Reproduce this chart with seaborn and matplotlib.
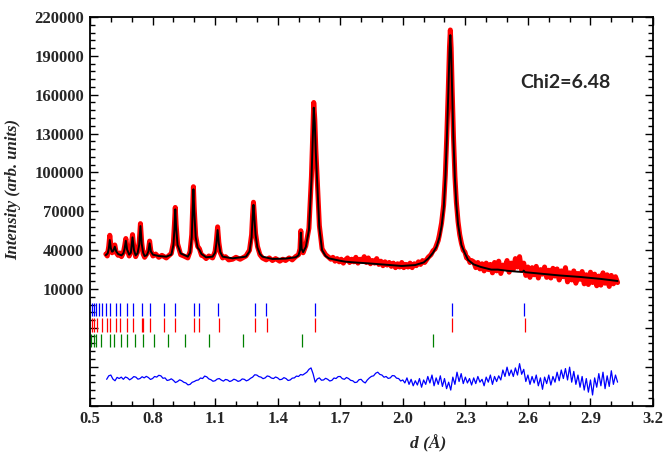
import numpy as np
import pandas as pd
import seaborn as sns
import matplotlib.pyplot as plt
from matplotlib.ticker import FixedLocator, FuncFormatter

# calculated profile (black line)
calc_d = [0.576, 0.585, 0.590, 0.595, 0.600, 0.606, 0.612, 0.619, 0.626, 0.635,
          0.651, 0.660, 0.666, 0.672, 0.678, 0.688, 0.696, 0.704, 0.711, 0.719,
          0.728, 0.736, 0.742, 0.748, 0.755, 0.762, 0.772, 0.780, 0.786, 0.792,
          0.802, 0.830, 0.866, 0.890, 0.900, 0.905, 0.909, 0.913, 0.920, 0.935,
          0.969, 0.980, 0.988, 0.992, 0.996, 1.000, 1.007, 1.016, 1.025, 1.035,
          1.057, 1.088, 1.100, 1.106, 1.112, 1.118, 1.125, 1.136, 1.184, 1.248,
          1.265, 1.275, 1.280, 1.284, 1.288, 1.294, 1.303, 1.315, 1.327, 1.375,
          1.438, 1.486, 1.500, 1.507, 1.511, 1.515, 1.522, 1.535, 1.550, 1.562,
          1.568, 1.573, 1.578, 1.583, 1.589, 1.600, 1.613, 1.630, 1.645, 1.700,
          1.725, 1.780, 1.836, 1.900, 1.950, 1.995, 2.059, 2.100, 2.122, 2.145,
          2.162, 2.176, 2.186, 2.196, 2.204, 2.211, 2.218, 2.224, 2.228, 2.232,
          2.237, 2.243, 2.250, 2.257, 2.265, 2.281, 2.298, 2.313, 2.340, 2.375,
          2.424, 2.456, 2.500, 2.551, 2.575, 2.580, 2.586, 2.650, 2.750, 2.852,
          2.950, 3.030]
calc_I = [36200, 37500, 41000, 47800, 41500, 38800, 39500, 42700, 39000, 37000,
          36000, 37500, 41000, 47300, 40500, 36500, 38000, 49900, 40000, 36000,
          37500, 44000, 58600, 45000, 38000, 35500, 36000, 39000, 45300, 39000,
          36500, 35500, 35000, 36500, 44000, 56000, 71500, 58000, 44000, 37500,
          35000, 38000, 50000, 68000, 87000, 70000, 50000, 42000, 40100, 37000,
          34500, 35000, 38000, 45000, 55500, 45000, 38500, 35000, 33700, 35000,
          39000, 50000, 65000, 75000, 66000, 52000, 42000, 37000, 35000, 33200,
          33500, 34500, 36000, 40000, 53500, 41000, 38500, 42500, 55500, 94000,
          125000, 150000, 138000, 115000, 94000, 57000, 40000, 35500, 33700, 31800,
          31100, 30400, 29800, 29000, 28300, 27800, 28500, 30500, 33500, 38000,
          42700, 50000, 58500, 72000, 95000, 125000, 160000, 193000, 206000, 192000,
          160000, 125000, 95000, 75000, 60000, 44000, 37500, 32500, 29000, 27000,
          25000, 25000, 24100, 23400, 23200, 24200, 23000, 22000, 20500, 19300,
          17800, 16200]

# observed profile (red)
obs_d = [0.576, 0.583, 0.590, 0.595, 0.600, 0.606, 0.612, 0.619, 0.626, 0.635,
         0.643, 0.651, 0.660, 0.666, 0.672, 0.678, 0.688, 0.696, 0.704, 0.711,
         0.719, 0.728, 0.736, 0.742, 0.748, 0.755, 0.762, 0.772, 0.780, 0.786,
         0.792, 0.802, 0.815, 0.830, 0.845, 0.866, 0.880, 0.890, 0.900, 0.905,
         0.909, 0.913, 0.920, 0.935, 0.950, 0.969, 0.980, 0.988, 0.992, 0.996,
         1.000, 1.007, 1.016, 1.025, 1.035, 1.045, 1.057, 1.070, 1.088, 1.100,
         1.106, 1.112, 1.118, 1.125, 1.136, 1.150, 1.165, 1.184, 1.200, 1.220,
         1.248, 1.265, 1.275, 1.280, 1.284, 1.288, 1.294, 1.303, 1.315, 1.327,
         1.345, 1.360, 1.375, 1.390, 1.410, 1.425, 1.438, 1.455, 1.470, 1.486,
         1.500, 1.507, 1.511, 1.515, 1.522, 1.535, 1.550, 1.562, 1.568, 1.573,
         1.578, 1.583, 1.589, 1.600, 1.613, 1.630, 1.645, 1.655, 1.665, 1.675,
         1.685, 1.695, 1.705, 1.715, 1.725, 1.735, 1.745, 1.755, 1.765, 1.775,
         1.785, 1.795, 1.805, 1.815, 1.825, 1.835, 1.845, 1.855, 1.865, 1.875,
         1.885, 1.895, 1.905, 1.915, 1.925, 1.935, 1.945, 1.955, 1.965, 1.975,
         1.985, 1.995, 2.005, 2.015, 2.025, 2.035, 2.045, 2.055, 2.065, 2.075,
         2.085, 2.095, 2.105, 2.122, 2.135, 2.145, 2.155, 2.162, 2.170, 2.176,
         2.186, 2.196, 2.204, 2.211, 2.218, 2.224, 2.228, 2.232, 2.237, 2.243,
         2.250, 2.257, 2.265, 2.273, 2.281, 2.290, 2.298, 2.306, 2.313, 2.322,
         2.330, 2.34, 2.35, 2.36, 2.37, 2.38, 2.39, 2.40, 2.41, 2.42,
         2.43, 2.44, 2.45, 2.46, 2.47, 2.48, 2.49, 2.50, 2.51, 2.52,
         2.53, 2.54, 2.55, 2.56, 2.57, 2.58, 2.59, 2.60, 2.61, 2.62,
         2.63, 2.64, 2.65, 2.66, 2.67, 2.68, 2.69, 2.70, 2.71, 2.72,
         2.73, 2.74, 2.75, 2.76, 2.77, 2.78, 2.79, 2.80, 2.81, 2.82,
         2.83, 2.84, 2.85, 2.86, 2.87, 2.88, 2.89, 2.90, 2.91, 2.92,
         2.93, 2.94, 2.95, 2.96, 2.97, 2.98, 2.99, 3.00, 3.01, 3.02,
         3.03]
obs_I = [37000, 35500, 43000, 51500, 44000, 38000, 40500, 44000, 38000, 36000,
         37800, 35000, 38000, 43000, 49000, 41000, 35500, 39000, 52000, 41000,
         35000, 38500, 46000, 60500, 46000, 37000, 34500, 37000, 40000, 47000,
         39500, 35500, 37000, 34500, 36000, 34000, 36000, 37500, 46000, 60000,
         73000, 60000, 45000, 36500, 35500, 34000, 39000, 52000, 70000, 89000,
         72000, 51000, 43000, 41000, 36000, 35500, 33500, 35500, 34000, 39000,
         47000, 58000, 46000, 38000, 34000, 35000, 32500, 33000, 34500, 33000,
         35500, 40000, 52000, 68000, 77000, 68000, 53000, 43000, 36500, 34000,
         32500, 34000, 32000, 33500, 31500, 33000, 32000, 34000, 32500, 35000,
         36500, 41000, 55000, 42000, 38000, 43500, 57000, 97000, 128000, 154000,
         141000, 118000, 97000, 59000, 41000, 36500, 34500, 33000, 34500, 31500,
         33500, 31000, 33000, 30000, 32500, 34000, 30500, 33000, 31000, 34500,
         30000, 33000, 31500, 35000, 30500, 34000, 29500, 32000, 30000, 33500,
         29000, 31500, 28000, 31000, 28500, 30500, 27500, 30000, 26500, 29500,
         27000, 30500, 26500, 29000, 27000, 30000, 26500, 29500, 28000, 31000,
         29000, 32000, 30500, 34500, 36500, 39500, 41000, 44000, 47500, 52000,
         61000, 75000, 98000, 128000, 163000, 197000, 210000, 196000, 163000, 128000,
         97000, 77000, 62000, 52000, 45500, 40000, 38500, 34000, 34000, 30500,
         32000, 31000, 26500, 30500, 25500, 29500, 24000, 30000, 25000, 29000,
         22500, 30500, 24000, 31500, 22000, 28500, 26000, 32000, 23000, 30000,
         25000, 33500, 27000, 35000, 24500, 30000, 20500, 27000, 19000, 26500,
         21000, 27500, 18500, 25000, 21500, 27000, 19000, 24500, 18500, 26000,
         20000, 25500, 17000, 24000, 19500, 26500, 15500, 22500, 17000, 24000,
         14500, 22000, 17500, 23500, 14000, 21000, 13500, 23000, 15000, 21500,
         12500, 20000, 13000, 22500, 14500, 21000, 12000, 20500, 14000, 19500,
         15000]

# difference curve (blue), in thousands, d from 0.58 to 3.03 in 0.01 steps
diff_d = np.round(np.arange(0.58, 3.035, 0.01), 2)
diff_k = [-59.7, -57.0, -56.4, -59.5, -60.8, -58.2, -59.1, -58.0, -59.7, -57.9,
          -58.6, -60.1, -59.1, -57.6, -58.0, -59.6, -59.1, -57.7, -58.6, -57.4,
          -58.3, -59.8, -59.1, -57.5, -58.0, -56.6, -57.0, -58.9, -58.6, -60.6,
          -60.2, -59.3, -60.5, -62.2, -61.4, -60.1, -60.8, -62.0, -62.5, -64.0,
          -63.6, -62.0, -61.4, -60.5, -60.2, -58.7, -59.1, -57.2, -57.8, -59.4,
          -60.0, -61.2, -60.8, -59.5, -59.1, -60.3, -61.1, -59.8, -60.2, -61.4,
          -60.8, -59.6, -60.2, -61.3, -60.8, -59.4, -59.7, -60.9, -60.2, -58.9,
          -58.0, -56.2, -56.4, -57.6, -58.0, -59.2, -58.6, -57.1, -57.5, -58.7,
          -59.1, -57.9, -58.6, -60.0, -59.7, -58.4, -59.1, -60.6, -60.2, -58.8,
          -58.6, -57.2, -57.5, -56.0, -56.4, -55.3, -54.2, -52.0, -50.9, -55.5,
          -61.9, -59.4, -58.6, -60.4, -60.2, -58.9, -59.7, -61.0, -60.5, -58.7,
          -59.1, -57.6, -57.5, -59.2, -59.7, -58.3, -59.1, -60.5, -60.8, -62.2,
          -61.9, -60.0, -59.7, -61.5, -62.5, -60.2, -58.6, -57.4, -57.0, -55.0,
          -54.2, -55.9, -56.4, -58.1, -57.5, -59.0, -58.6, -56.8, -57.0, -58.8,
          -59.1, -61.0, -60.2,
          -62.5, -58.6, -63.6, -59.7, -64.7, -60.8, -64.1, -59.1,
          -65.8, -60.2, -63.6, -57.5, -62.5, -56.4, -64.7, -58.6, -63.6, -57.0,
          -65.2, -59.1, -66.9, -61.9, -68.0, -58.0, -63.6, -54.2, -61.4, -55.3,
          -63.0, -58.0, -62.5, -59.1, -64.1, -58.6, -63.0, -57.5, -61.9, -59.7,
          -64.7, -58.0, -61.9, -56.4, -63.6, -57.5, -61.4, -57.0, -60.2, -52.5,
          -57.5, -50.3, -56.9, -52.5, -57.5, -50.9, -56.4, -47.6, -55.8, -52.0,
          -61.4, -56.4, -63.6, -57.5, -62.5, -56.4, -64.7, -58.6, -67.4, -58.0,
          -63.0, -56.4, -64.1, -57.5, -61.9, -54.2, -60.8, -52.5, -59.1, -51.4,
          -60.2, -50.3, -61.9, -53.6, -63.6, -56.4, -65.8, -57.5, -68.0, -59.1,
          -69.6, -60.2, -71.8, -58.6, -65.8, -55.3, -64.7, -54.2, -66.9, -57.0,
          -65.2, -53.1, -63.6, -56.4, -61.9]

# Bragg reflection positions of the three phases
bragg_blue = [0.509, 0.517, 0.531, 0.543, 0.556, 0.577, 0.597, 0.623, 0.645, 0.676,
              0.705, 0.748, 0.790, 0.855, 0.910, 0.999, 1.025, 1.115, 1.289, 1.344,
              1.580, 2.234, 2.580]
bragg_red = [0.509, 0.521, 0.534, 0.556, 0.582, 0.597, 0.623, 0.645, 0.676, 0.705,
             0.748, 0.756, 0.790, 0.855, 0.910, 0.999, 1.025, 1.118, 1.289, 1.349,
             1.580, 2.237, 2.584]
bragg_green = [0.505, 0.517, 0.529, 0.555, 0.594, 0.616, 0.649, 0.676, 0.714, 0.756,
               0.808, 0.873, 0.958, 1.069, 1.235, 1.517, 2.144]

obs = pd.DataFrame({"d": obs_d, "I": obs_I})
calc = pd.DataFrame({"d": calc_d, "I": calc_I})
diff = pd.DataFrame({"d": diff_d, "I": np.array(diff_k) * 1000})

sns.set_style("ticks")
plt.rcParams["font.family"] = ["Liberation Serif", "DejaVu Serif"]

fig = plt.figure(figsize=(6.65, 4.53), dpi=100)
ax = fig.add_axes([0.1353, 0.1046, 0.8467, 0.8579])

sns.lineplot(data=obs, x="d", y="I", color="#ff0000", lw=3.6, ax=ax)
sns.lineplot(data=calc, x="d", y="I", color="black", lw=1.4, ax=ax)
sns.lineplot(data=diff, x="d", y="I", color="#0000ff", lw=0.9, ax=ax)

ax.vlines(bragg_blue, -10500, -500, color="#0000ff", lw=0.9)
ax.vlines(bragg_red, -23500, -12500, color="#ff0000", lw=0.9)
ax.vlines(bragg_green, -35000, -25000, color="#008000", lw=0.9)

ax.set_xlim(0.5, 3.2)
ax.set_ylim(-80000, 220000)

ax.xaxis.set_major_locator(FixedLocator(np.arange(0.5, 3.21, 0.3)))
ax.xaxis.set_minor_locator(FixedLocator(np.arange(0.5, 3.21, 0.1)))
ax.xaxis.set_major_formatter(FuncFormatter(lambda v, p: f"{v:.1f}"))
ax.yaxis.set_major_locator(FixedLocator(np.arange(-80000, 220001, 30000)))
ax.yaxis.set_minor_locator(FixedLocator(np.arange(-80000, 220001, 6000)))
ax.yaxis.set_major_formatter(FuncFormatter(lambda v, p: f"{int(v)}" if v >= 10000 else ""))

ax.tick_params(which="both", direction="in", top=True, right=True, width=1, color="black")
ax.tick_params(which="major", length=6, pad=4, labelsize=12)
ax.tick_params(which="minor", length=3.5)
for lab in ax.get_xticklabels() + ax.get_yticklabels():
    lab.set_fontweight("bold")
for sp in ax.spines.values():
    sp.set_linewidth(1.3)
    sp.set_color("black")

ax.set_xlabel("d (Å)", fontsize=12.5, fontweight="bold", fontstyle="italic")
ax.set_ylabel("Intensity (arb. units)", fontsize=12, fontweight="bold", fontstyle="italic")
ax.xaxis.set_label_coords(0.60, -0.075)
ax.yaxis.set_label_coords(-0.122, 0.555)

ax.text(0.845, 0.832, "Chi2=6.48", transform=ax.transAxes, ha="center", va="center",
        fontsize=14, fontweight="bold", family=["Lato", "DejaVu Sans"])

fig.savefig("out.png", dpi=100)
